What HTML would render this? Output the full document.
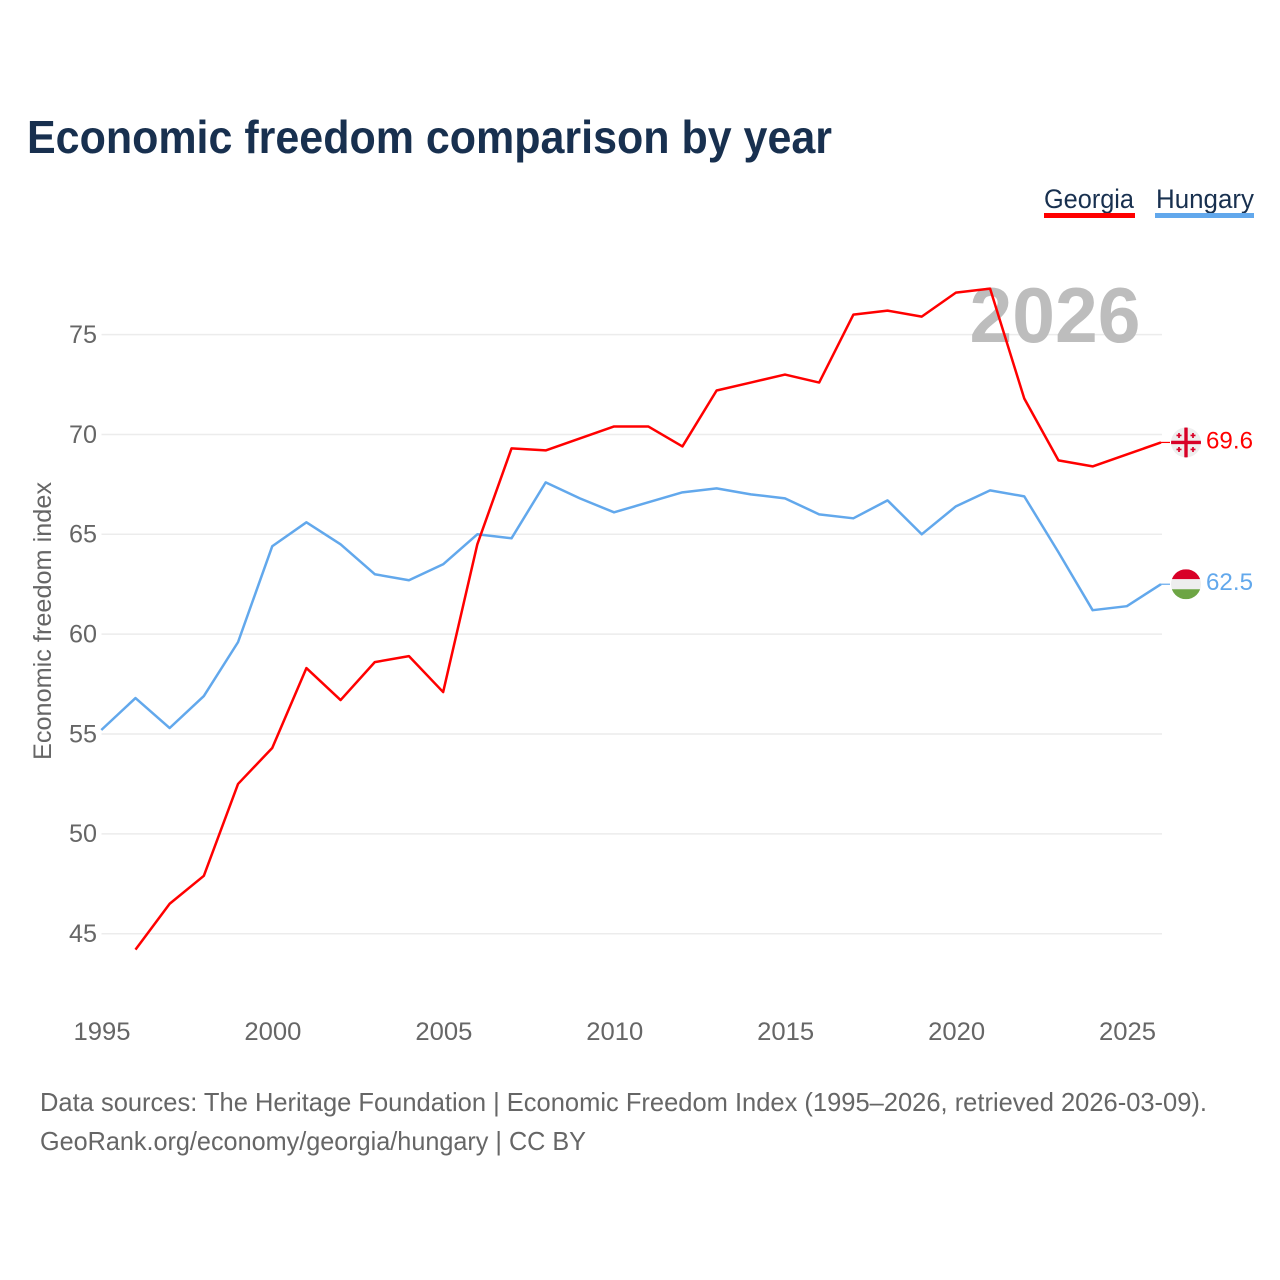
<!DOCTYPE html>
<html lang="en">
<head>
<meta charset="utf-8">
<title>Economic freedom comparison by year</title>
<style>
html,body{margin:0;padding:0;background:#fff;width:1280px;height:1280px;overflow:hidden}
svg{display:block;font-family:"Liberation Sans",sans-serif}
</style>
</head>
<body>
<svg id="chart" xmlns="http://www.w3.org/2000/svg" width="1280" height="1280" viewBox="0 0 1280 1280">
  <rect width="1280" height="1280" fill="#ffffff"/>
  <text x="27" y="153" font-size="46" font-weight="700" fill="#18304f" textLength="805" lengthAdjust="spacingAndGlyphs">Economic freedom comparison by year</text>
  <g>
    <text x="1044" y="208" font-size="27" fill="#18304f" textLength="90" lengthAdjust="spacingAndGlyphs">Georgia</text>
    <rect x="1044" y="213" width="91" height="5" fill="#ff0000"/>
  </g>
  <g>
    <text x="1156" y="208" font-size="27" fill="#18304f" textLength="98" lengthAdjust="spacingAndGlyphs">Hungary</text>
    <rect x="1155" y="213" width="99" height="5" fill="#62a8ec"/>
  </g>
  <g id="grid"></g>
  <text x="1055" y="342" font-size="78" font-weight="700" text-anchor="middle" fill="#bdbdbd" textLength="171" lengthAdjust="spacingAndGlyphs">2026</text>
  <g id="yticks"></g>
  <g id="xticks"></g>
  <text transform="translate(51,621) rotate(-90)" font-size="25" text-anchor="middle" fill="#666666" textLength="278" lengthAdjust="spacingAndGlyphs">Economic freedom index</text>
  <g id="series"></g>
  <defs>
    <clipPath id="flag-clip"><circle cx="0" cy="0" r="15"/></clipPath>
  </defs>
  <g id="flag-georgia">
    <g clip-path="url(#flag-clip)">
      <rect x="-15" y="-15" width="30" height="30" fill="#eeeeee"/>
      <rect x="-15" y="-1.700" width="30" height="3.400" fill="#d80027"/>
      <rect x="-1.700" y="-15" width="3.400" height="30" fill="#d80027"/>
      <path d="M-7-9.500v5M-9.500-7h5M7-9.500v5M4.500-7h5M-7 4.500v5M-9.500 7h5M7 4.500v5M4.500 7h5" stroke="#d80027" stroke-width="1.700" fill="none"/>
    </g>
  </g>
  <g id="flag-hungary">
    <g clip-path="url(#flag-clip)">
      <rect x="-15" y="-15" width="30" height="10" fill="#d80027"/>
      <rect x="-15" y="-5" width="30" height="10" fill="#eeeeee"/>
      <rect x="-15" y="5" width="30" height="10" fill="#6da544"/>
    </g>
  </g>
  <text id="value-georgia" x="1206" font-size="24" fill="#ff0000" textLength="47" lengthAdjust="spacingAndGlyphs"></text>
  <text id="value-hungary" x="1206" font-size="24" fill="#62a8ec" textLength="47" lengthAdjust="spacingAndGlyphs"></text>
  <text x="40" y="1111" font-size="26" fill="#666666" textLength="1167" lengthAdjust="spacingAndGlyphs">Data sources: The Heritage Foundation | Economic Freedom Index (1995–2026, retrieved 2026-03-09).</text>
  <text x="40" y="1150" font-size="26" fill="#666666" textLength="546" lengthAdjust="spacingAndGlyphs">GeoRank.org/economy/georgia/hungary | CC BY</text>
</svg>
<script>
const years = [1995,1996,1997,1998,1999,2000,2001,2002,2003,2004,2005,2006,2007,2008,2009,2010,2011,2012,2013,2014,2015,2016,2017,2018,2019,2020,2021,2022,2023,2024,2025,2026];
const georgiaValues = [null,44.2,46.5,47.9,52.5,54.3,58.3,56.7,58.6,58.9,57.1,64.5,69.3,69.2,69.8,70.4,70.4,69.4,72.2,72.6,73.0,72.6,76.0,76.2,75.9,77.1,77.3,71.8,68.7,68.4,69.0,69.6];
const hungaryValues = [55.2,56.8,55.3,56.9,59.6,64.4,65.6,64.5,63.0,62.7,63.5,65.0,64.8,67.6,66.8,66.1,66.6,67.1,67.3,67.0,66.8,66.0,65.8,66.7,65.0,66.4,67.2,66.9,64.1,61.2,61.4,62.5];
const yTickValues = [45,50,55,60,65,70,75];
const xTickValues = [1995,2000,2005,2010,2015,2020,2025];

const NS = 'http://www.w3.org/2000/svg';
function xScale(year) { return 101.3 + (year - 1995) * (1161 - 101.3) / 31; }
function yScale(value) { return 933.7 - (value - 45) * 19.97; }

const grid = document.getElementById('grid');
const yticks = document.getElementById('yticks');
yTickValues.forEach(function (v) {
  const line = document.createElementNS(NS, 'line');
  
  
  line.setAttribute('x1', 101.5);
  line.setAttribute('x2', 1162);
  line.setAttribute('y1', yScale(v));
  line.setAttribute('y2', yScale(v));
  line.setAttribute('stroke', '#ececec');
  line.setAttribute('stroke-width', '1.5');
  grid.appendChild(line);
  const label = document.createElementNS(NS, 'text');
  
  
  label.setAttribute('x', 97);
  label.setAttribute('y', yScale(v) + 8.3);
  label.setAttribute('text-anchor', 'end');
  label.setAttribute('font-size', '25');
  label.setAttribute('fill', '#666666');
  label.setAttribute('textLength', '28');
  label.setAttribute('lengthAdjust', 'spacingAndGlyphs');
  label.textContent = v;
  yticks.appendChild(label);
});

const xticks = document.getElementById('xticks');
xTickValues.forEach(function (yr) {
  const label = document.createElementNS(NS, 'text');
  
  
  label.setAttribute('x', xScale(yr) + 0.7);
  label.setAttribute('y', 1040);
  label.setAttribute('text-anchor', 'middle');
  label.setAttribute('font-size', '25');
  label.setAttribute('fill', '#666666');
  label.setAttribute('textLength', '57');
  label.setAttribute('lengthAdjust', 'spacingAndGlyphs');
  label.textContent = yr;
  xticks.appendChild(label);
});

function linePath(values) {
  let d = '';
  values.forEach(function (v, i) {
    if (v === null) return;
    d += (d ? 'L' : 'M') + xScale(years[i]).toFixed(2) + ' ' + yScale(v).toFixed(2);
  });
  return d;
}

const seriesGroup = document.getElementById('series');
function addSeries(values, color, lineName, connectorName) {
  const path = document.createElementNS(NS, 'path');
  
  
  path.setAttribute('d', linePath(values));
  path.setAttribute('fill', 'none');
  path.setAttribute('stroke', color);
  path.setAttribute('stroke-width', '2.5');
  path.setAttribute('stroke-linejoin', 'round');
  seriesGroup.appendChild(path);
  const last = values[values.length - 1];
  const conn = document.createElementNS(NS, 'line');
  
  
  conn.setAttribute('x1', xScale(years[years.length - 1]));
  conn.setAttribute('x2', 1170);
  conn.setAttribute('y1', yScale(last));
  conn.setAttribute('y2', yScale(last));
  conn.setAttribute('stroke', color);
  conn.setAttribute('stroke-width', '1.2');
  seriesGroup.appendChild(conn);
}
addSeries(hungaryValues, '#62a8ec', 'line-hungary', 'connector-hungary');
addSeries(georgiaValues, '#ff0000', 'line-georgia', 'connector-georgia');

function placeEnd(values, flagId, labelId) {
  const last = values[values.length - 1];
  const y = yScale(last);
  document.getElementById(flagId).setAttribute('transform', 'translate(1186,' + y.toFixed(2) + ')');
  const t = document.getElementById(labelId);
  t.setAttribute('y', (y + 6).toFixed(2));
  t.textContent = last.toFixed(1);
}
placeEnd(georgiaValues, 'flag-georgia', 'value-georgia');
placeEnd(hungaryValues, 'flag-hungary', 'value-hungary');
</script>
</body>
</html>
